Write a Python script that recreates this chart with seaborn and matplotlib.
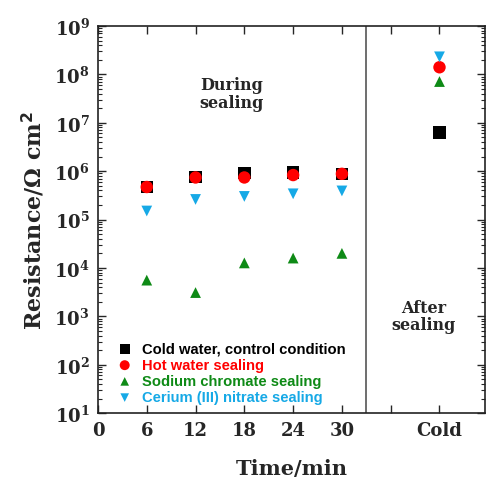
import matplotlib
matplotlib.use("Agg")
import matplotlib.pyplot as plt
import matplotlib.ticker as mticker
import seaborn as sns
import pandas as pd
import numpy as np

sns.set_style("ticks")
plt.rcParams['font.family'] = ['DejaVu Serif']

# ---- data ----
time_labels = ["0", "6", "12", "18", "24", "30", "", "Cold"]
tick_positions = [0, 6, 12, 18, 24, 30, 36, 42]
times = [6, 12, 18, 24, 30]
cold_pos = 42
series_names = ["Cold water, control condition", "Hot water sealing",
                "Sodium chromate sealing", "Cerium (III) nitrate sealing"]
cold_water = [4.7e5, 7.6e5, 9.1e5, 9.3e5, 8.8e5]
hot_water = [4.7e5, 7.4e5, 7.4e5, 8.3e5, 8.8e5]
sodium_chromate = [5.6e3, 3.1e3, 1.27e4, 1.6e4, 2.0e4]
cerium_nitrate = [1.5e5, 2.6e5, 3.0e5, 3.4e5, 3.9e5]
after_values = [6.3e6, 1.4e8, 7.1e7, 2.3e8]

colors = ["#000000", "#FF0000", "#0E8A16", "#16A9E6"]
markers = ["s", "o", "^", "v"]
sizes = [80, 80, 60, 60]

rows = []
for name, vals, aft in zip(series_names,
                           [cold_water, hot_water, sodium_chromate, cerium_nitrate],
                           after_values):
    for t, v in zip(times, vals):
        rows.append({"x": t, "R": v, "series": name})
    rows.append({"x": cold_pos, "R": aft, "series": name})
df = pd.DataFrame(rows)

fig = plt.figure(figsize=(4.86, 4.81), dpi=100)
ax = fig.add_axes([0.2016, 0.139, 0.7964, 0.805])

for name, c, m, s in zip(series_names, colors, markers, sizes):
    sub = df[df["series"] == name]
    sns.scatterplot(data=sub, x="x", y="R", ax=ax, color=c, marker=m, s=s,
                    edgecolor="none", label=name, zorder=3)

ax.set_yscale("log")
ax.set_ylim(1e1, 1e9)
ax.set_xlim(0, 47.6)
ax.axvline(33, color="#555555", lw=1.2)

ax.set_xticks(tick_positions)
ax.set_xticklabels(time_labels)
ax.yaxis.set_major_locator(mticker.LogLocator(base=10, numticks=20))
ax.yaxis.set_minor_locator(mticker.LogLocator(base=10, subs=np.arange(2, 10), numticks=20))
ax.yaxis.set_minor_formatter(mticker.NullFormatter())
ax.tick_params(axis="both", which="both", direction="in", top=True, right=True)
ax.tick_params(axis="both", which="major", length=6, width=1, labelsize=13, pad=6)
ax.tick_params(axis="y", which="minor", length=3, width=0.8)
for lab in ax.get_xticklabels() + ax.get_yticklabels():
    lab.set_fontweight("bold")
for sp in ax.spines.values():
    sp.set_linewidth(1.2)
    sp.set_color("#222222")

ax.set_xlabel("Time/min", fontsize=15, fontweight="bold", labelpad=13)
ax.set_ylabel("Resistance/Ω cm$^\\mathbf{2}$", fontsize=16, fontweight="bold", labelpad=5)

ax.text(16.4, 4e7, "During\nsealing", ha="center", va="center", fontsize=11.5,
        fontweight="bold", linespacing=1.05)
ax.text(40.0, 1.0e3, "After\nsealing", ha="center", va="center", fontsize=11.5,
        fontweight="bold", linespacing=1.0)

leg = ax.legend(loc="lower left", bbox_to_anchor=(0.012, -0.008), frameon=False,
                prop={"family": "Liberation Sans", "weight": "bold", "size": 10.6},
                handletextpad=0.45, labelspacing=0.15, borderaxespad=0.4,
                handlelength=1.4, markerscale=0.8)
for txt, c in zip(leg.get_texts(), colors):
    txt.set_color(c)

fig.savefig("out.png", dpi=100)
